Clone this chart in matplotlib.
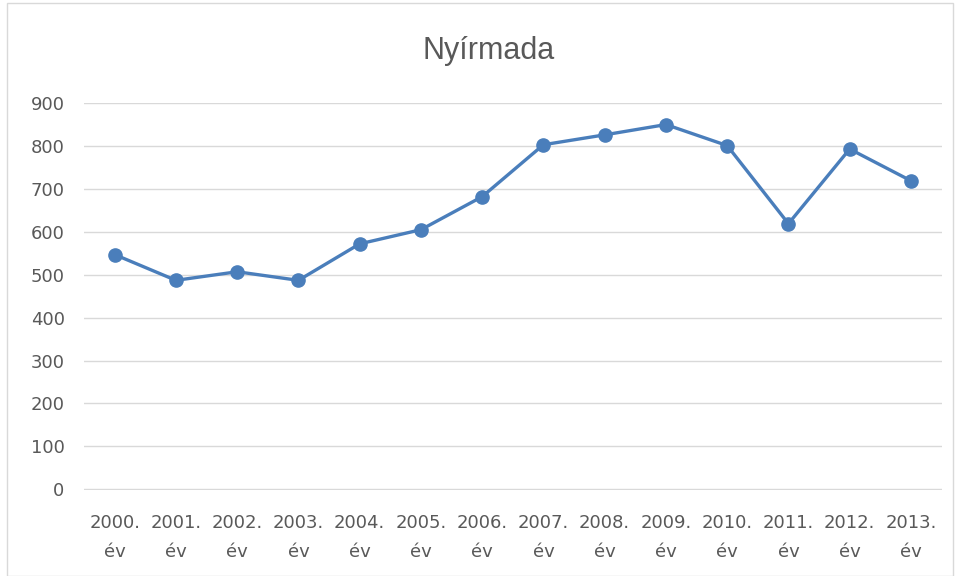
import matplotlib.pyplot as plt
from matplotlib.patches import Rectangle

# Data
years = ['2000.', '2001.', '2002.', '2003.', '2004.', '2005.', '2006.',
         '2007.', '2008.', '2009.', '2010.', '2011.', '2012.', '2013.']
labels = [y + '\név' for y in years]
values = [547, 487, 507, 487, 572, 605, 682, 803, 826, 850, 801, 619, 793, 719]
yticks = [0, 100, 200, 300, 400, 500, 600, 700, 800, 900]

plt.rcParams['font.family'] = ['DejaVu Sans Condensed', 'DejaVu Sans']

fig = plt.figure(figsize=(9.56, 5.76), dpi=100)
ax = fig.add_axes([0.0879, 0.149, 0.897, 0.672])

# light frame around the chart area
fig.patches.append(Rectangle((0.007, 0.0), 0.99, 0.995, transform=fig.transFigure,
                             fill=False, edgecolor='#d9d9d9', linewidth=1))

x = list(range(len(values)))
ax.plot(x, values, color='#4a7ebb', linewidth=2.4, marker='o', markersize=9.5,
        solid_capstyle='round')

ax.set_xlim(-0.5, len(values) - 0.5)
ax.set_ylim(-2, 900)
ax.set_yticks(yticks)
ax.set_xticks(x)
ax.set_xticklabels(labels, fontsize=13, color='#595959', linespacing=1.8)
ax.tick_params(axis='y', labelsize=13, labelcolor='#595959', length=0, pad=14)
ax.tick_params(axis='x', length=0, pad=17)

ax.grid(axis='y', color='#d9d9d9', linewidth=1)
ax.set_axisbelow(True)
for s in ax.spines.values():
    s.set_visible(False)

fig.text(0.511, 0.912, 'Nyírmada', ha='center', va='center', fontsize=22,
         color='#595959', family=['Liberation Sans', 'DejaVu Sans'])

fig.savefig('out.png', dpi=100)
